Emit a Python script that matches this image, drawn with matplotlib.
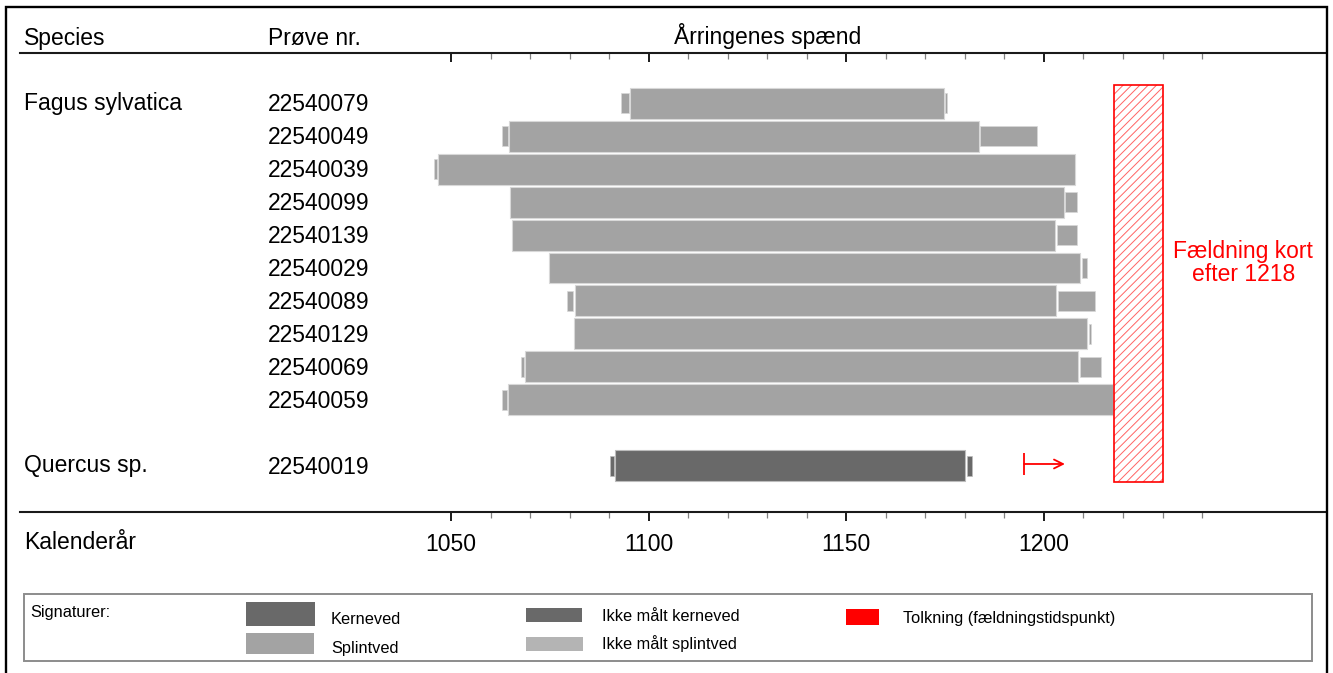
import matplotlib
matplotlib.use('Agg')
import matplotlib.pyplot as plt
import matplotlib.transforms as mtransforms
from matplotlib.patches import Rectangle
from matplotlib.ticker import NullFormatter

plt.rcParams['font.family'] = ['Liberation Sans', 'DejaVu Sans']
plt.rcParams['hatch.linewidth'] = 0.7

# ---------------- data ----------------
species_labels = ['Fagus sylvatica', 'Quercus sp.']
species_rows = [0, 11]

sample_ids = ['22540079', '22540049', '22540039', '22540099', '22540139',
              '22540029', '22540089', '22540129', '22540069', '22540059',
              '22540019']
sample_rows = [0, 1, 2, 3, 4, 5, 6, 7, 8, 9, 11]
sample_wood = ['splint'] * 10 + ['kerne']

# unmeasured inner part (years), None = absent
pre_start = [1093.0, 1063.0, 1045.8, None, None, None, 1079.3, None, 1067.8, 1062.9, 1090.3]
pre_end = [1095.0, 1064.4, 1046.5, None, None, None, 1080.9, None, 1068.4, 1064.2, 1091.3]
# measured part (years)
main_start = [1095.3, 1064.6, 1046.8, 1065.0, 1065.5, 1074.9, 1081.3, 1081.0, 1068.8, 1064.5, 1091.6]
main_end = [1174.6, 1183.6, 1207.8, 1205.0, 1202.8, 1209.1, 1203.1, 1211.0, 1208.7, 1217.5, 1180.1]
# unmeasured outer part (years)
post_start = [1174.9, 1183.9, None, 1205.3, 1203.2, 1209.5, 1203.5, 1211.4, 1209.1, None, 1180.6]
post_end = [1175.4, 1198.3, None, 1208.4, 1208.4, 1211.0, 1212.9, 1211.9, 1214.5, None, 1181.9]

felling_years = (1217.8, 1230.2)
felling_text = 'Fældning kort\nefter 1218'
felling_text_pos = (1250.4, 4.85)
arrow_years = (1195.0, 1205.3)

major_ticks = [1050, 1100, 1150, 1200]
minor_ticks = [1060, 1070, 1080, 1090, 1110, 1120, 1130, 1140, 1160, 1170,
               1180, 1190, 1210, 1220, 1230, 1240]

legend_title = 'Signaturer:'
legend_labels = ['Kerneved', 'Splintved', 'Ikke målt kerneved',
                 'Ikke målt splintved', 'Tolkning (fældningstidspunkt)']
legend_colors = ['#696969', '#a3a3a3', '#696969', '#b4b4b4', '#ff0000']

# ---------------- styling ----------------
W, H = 1333, 673
PPY = 3.953          # pixels per year
X_1050 = 451.0       # pixel of year 1050
ROW0, PITCH = 103.3, 32.94
AX_L, AX_R, AX_T, AX_B = 20, 1325, 52.7, 511.7
FS = 16.5
LFS = 11.8

wood_color = {'splint': '#a3a3a3', 'kerne': '#696969'}
wood_edge = {'splint': '#d8d8d8', 'kerne': '#bcbcbc'}


def fx(x):
    return x / W


def fy(y):
    return 1 - y / H


fig = plt.figure(figsize=(W / 100, H / 100), dpi=100)

ax = fig.add_axes([fx(AX_L), fy(AX_B), (AX_R - AX_L) / W, (AX_B - AX_T) / H])
ax.set_xlim(1050 + (AX_L - X_1050) / PPY, 1050 + (AX_R - X_1050) / PPY)
ax.set_ylim((AX_B - ROW0) / PITCH, (AX_T - ROW0) / PITCH)
ax.set_facecolor('none')

for s in ['left', 'right']:
    ax.spines[s].set_visible(False)
for s in ['top', 'bottom']:
    ax.spines[s].set_linewidth(1.5)
    ax.spines[s].set_color('#1a1a1a')
ax.set_yticks([])

ax.set_xticks(major_ticks)
ax.set_xticks(minor_ticks, minor=True)
ax.xaxis.set_minor_formatter(NullFormatter())
ax.tick_params(axis='x', which='major', direction='out', length=6.5, width=1.4,
               pad=8.5, labelsize=FS, color='#1a1a1a')
ax.tick_params(axis='x', which='minor', direction='out', length=4.3, width=0.9,
               color='#808080')

sec = ax.secondary_xaxis('top')
sec.set_xticks(major_ticks)
sec.set_xticks(minor_ticks, minor=True)
sec.xaxis.set_major_formatter(NullFormatter())
sec.xaxis.set_minor_formatter(NullFormatter())
sec.tick_params(axis='x', which='major', direction='in', length=6.5, width=1.4, color='#1a1a1a')
sec.tick_params(axis='x', which='minor', direction='in', length=4.3, width=0.9, color='#808080')
sec.spines['top'].set_visible(False)

BAR_H = 0.94
STUB_H = 0.61
for i, row in enumerate(sample_rows):
    c = wood_color[sample_wood[i]]
    e = wood_edge[sample_wood[i]]
    ax.barh(row, main_end[i] - main_start[i], left=main_start[i], height=BAR_H,
            color=c, edgecolor=e, linewidth=0.8)
    if pre_start[i] is not None:
        ax.barh(row, pre_end[i] - pre_start[i], left=pre_start[i], height=STUB_H,
                color=c, edgecolor=e, linewidth=0.5)
    if post_start[i] is not None:
        ax.barh(row, post_end[i] - post_start[i], left=post_start[i], height=STUB_H,
                color=c, edgecolor=e, linewidth=0.5)

# felling interpretation box
top_row = sample_rows[0] - 0.55
bot_row = sample_rows[-1] + 0.5
ax.add_patch(Rectangle((felling_years[0], top_row), felling_years[1] - felling_years[0],
                       bot_row - top_row, facecolor='none', edgecolor='#ff6464',
                       hatch='////', linewidth=0))
ax.add_patch(Rectangle((felling_years[0], top_row), felling_years[1] - felling_years[0],
                       bot_row - top_row, facecolor='none', edgecolor='#ff0000',
                       linewidth=1.2))
ax.text(felling_text_pos[0], felling_text_pos[1], felling_text, ha='center', va='center',
        color='#ff0000', fontsize=FS, linespacing=1.0)

# arrow for Quercus
arow = sample_rows[-1] - 0.05
ax.vlines(arrow_years[0], arow - 0.32, arow + 0.33, color='#ff0000', linewidth=1.3)
ax.annotate('', xy=(arrow_years[1], arow), xytext=(arrow_years[0], arow),
            arrowprops=dict(arrowstyle='->', color='#ff0000', lw=1.3,
                            shrinkA=0, shrinkB=0, mutation_scale=16))

# labels
trans = mtransforms.blended_transform_factory(fig.transFigure, ax.transData)
for lab, r in zip(species_labels, species_rows):
    ax.text(fx(24), r + 0.2, lab, transform=trans, fontsize=FS, va='baseline', ha='left')
for lab, r in zip(sample_ids, sample_rows):
    ax.text(fx(268), r + 0.24, lab, transform=trans, fontsize=FS, va='baseline', ha='left')

fig.text(fx(24), fy(45), 'Species', fontsize=FS, va='baseline', ha='left')
fig.text(fx(268), fy(45), 'Prøve nr.', fontsize=FS, va='baseline', ha='left')
fig.text(fx(767.5), fy(44), 'Årringenes spænd', fontsize=FS, va='baseline', ha='center')
fig.text(fx(24), fy(549.3), 'Kalenderår', fontsize=FS, va='baseline', ha='left')

# legend (manual)
fig.add_artist(Rectangle((fx(24), fy(661)), (1312 - 24) / W, (661 - 594.3) / H,
                         transform=fig.transFigure, facecolor='none',
                         edgecolor='#8c8c8c', linewidth=1.4))
fig.text(fx(30), fy(616.7), legend_title, fontsize=LFS, va='baseline', ha='left')
sw_boxes = [(246, 602.3, 315, 625.7), (246, 632.7, 314, 654.3),
            (525.5, 608.3, 581.5, 621.7), (525.5, 637.3, 582.5, 651.3),
            (845.8, 609.3, 879, 624.7)]
txt_pos = [(331, 624), (331, 653), (602, 620.7), (602, 648.5), (903, 623.5)]
for (x0, y0, x1, y1), (tx, ty), lab, col in zip(sw_boxes, txt_pos, legend_labels, legend_colors):
    fig.add_artist(Rectangle((fx(x0), fy(y1)), (x1 - x0) / W, (y1 - y0) / H,
                             transform=fig.transFigure, facecolor=col, edgecolor='none'))
    fig.text(fx(tx), fy(ty), lab, fontsize=LFS, va='baseline', ha='left')

# outer frame
fig.add_artist(Rectangle((fx(6), fy(700)), (1327 - 6) / W, (700 - 7) / H,
                         transform=fig.transFigure, facecolor='none',
                         edgecolor='black', linewidth=1.7))

fig.savefig('out.png', dpi=100)
